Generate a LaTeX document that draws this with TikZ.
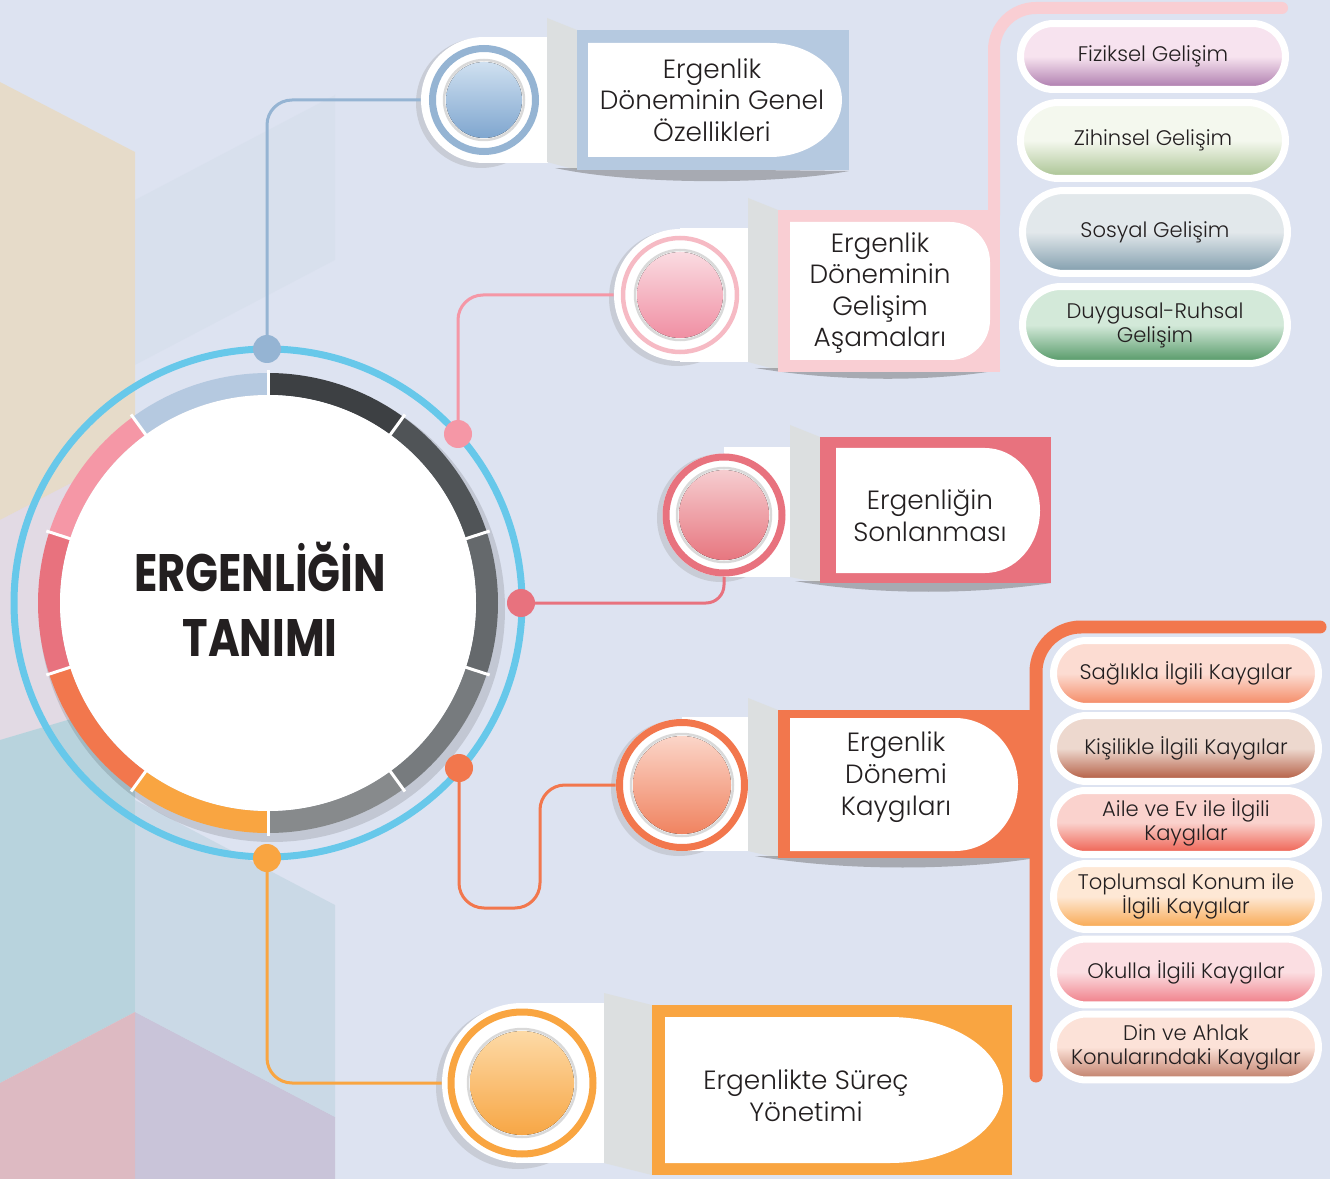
\documentclass[tikz,border=0pt]{standalone}
\usepackage{fontspec}
\usepackage{graphicx}
\setmainfont{Poppins}[UprightFont=* Light, BoldFont=* Bold]
\usetikzlibrary{shapes.misc,positioning}

\definecolor{bgc}{HTML}{DDE3F1}
\definecolor{txt}{HTML}{231F20}
\definecolor{ringc}{HTML}{67C8EA}
\definecolor{foldc}{HTML}{DCDFE0}
\definecolor{sg1}{HTML}{3D4043}
\definecolor{sg2}{HTML}{505457}
\definecolor{sg3}{HTML}{65696C}
\definecolor{sg4}{HTML}{777B7E}
\definecolor{sg5}{HTML}{878A8C}
\definecolor{blu}{HTML}{95B4D3}
\definecolor{blubox}{HTML}{B5C9E0}
\definecolor{blul}{HTML}{CFE0F0}
\definecolor{blud}{HTML}{7FA6CF}
\definecolor{pnk}{HTML}{F597A6}
\definecolor{pnkbox}{HTML}{F9CED3}
\definecolor{pnkring}{HTML}{F6BAC4}
\definecolor{pnkl}{HTML}{FADBE1}
\definecolor{pnkd}{HTML}{F08FA3}
\definecolor{red}{HTML}{E8727E}
\definecolor{redl}{HTML}{F6CDD0}
\definecolor{redd}{HTML}{E7767F}
\definecolor{org}{HTML}{F2774D}
\definecolor{orgl}{HTML}{FBD5C8}
\definecolor{orgd}{HTML}{F08360}
\definecolor{yel}{HTML}{F9A541}
\definecolor{yell}{HTML}{FDDAA6}
\definecolor{yeld}{HTML}{F7A645}
% background patches
\definecolor{bgbeige}{HTML}{E9DAC0}
\definecolor{bglav}{HTML}{E6D4DC}
\definecolor{bgteal}{HTML}{AFD0D8}
\definecolor{bgrose}{HTML}{DDBAC2}
\definecolor{bgpurp}{HTML}{C4BDD3}
\definecolor{bgmist}{HTML}{C3D6E2}
\definecolor{bgsky}{HTML}{D5DEEB}
% sub item shades
\definecolor{p1t}{HTML}{F7E3EF}\definecolor{p1b}{HTML}{A976AA}
\definecolor{p2t}{HTML}{F4F8EE}\definecolor{p2b}{HTML}{A7C18F}
\definecolor{p3t}{HTML}{E2E8EB}\definecolor{p3b}{HTML}{7E9BAB}
\definecolor{p4t}{HTML}{D3E9D9}\definecolor{p4b}{HTML}{4F9562}
\definecolor{q1t}{HTML}{FCDCD2}\definecolor{q1b}{HTML}{F4855E}
\definecolor{q2t}{HTML}{EDD8CE}\definecolor{q2b}{HTML}{B0553A}
\definecolor{q3t}{HTML}{FAD2CD}\definecolor{q3b}{HTML}{EE5B4B}
\definecolor{q4t}{HTML}{FEE8D5}\definecolor{q4b}{HTML}{F8A549}
\definecolor{q5t}{HTML}{FBDEE2}\definecolor{q5b}{HTML}{EF7A84}
\definecolor{q6t}{HTML}{FCE2D8}\definecolor{q6b}{HTML}{BE7B66}

\begin{document}
\begin{tikzpicture}[x=0.02cm, y=-0.02cm,
  conn/.style={line width=0.06cm, rounded corners=0.5cm},
  btn/.style={circle, fill=white, inner sep=0pt},
  fold/.style={fill=foldc},
  shd/.style={fill=black!60, opacity=.45},
  halo/.style={fill=black!40, opacity=.3},
  lbl/.style={align=center, text=txt, font=\fontsize{15}{18}\selectfont},
  pill/.style={rounded rectangle, draw=white, line width=0.14cm,
    minimum width=5.3cm, minimum height=1.32cm, inner sep=0pt,
    align=center, text=txt, font=\fontsize{12}{13.6}\selectfont},
  pillshade/.style 2 args={top color=#1, bottom color=#2, middle color=#1}]

% background
\fill[bgc] (0,0) rectangle (1330,1179);
\useasboundingbox (0,0) rectangle (1330,1179);
\fill[bgbeige, opacity=.8] (0,82) -- (135,152) -- (135,450) -- (0,520) -- cycle;
\fill[bglav, opacity=.6] (0,520) -- (135,450) -- (135,700) -- (0,740) -- cycle;
\fill[bgteal, opacity=.8] (0,740) -- (135,700) -- (135,1012) -- (0,1083) -- cycle;
\fill[bgrose] (0,1083) -- (135,1012) -- (135,1179) -- (0,1179) -- cycle;
\fill[bgpurp, opacity=.8] (135,1012) -- (335,1117) -- (335,1179) -- (135,1179) -- cycle;
\fill[bgmist, opacity=.7] (135,800) -- (335,905) -- (335,1117) -- (135,1012) -- cycle;
\fill[bgsky, opacity=.5] (135,200) -- (335,95) -- (335,260) -- (135,365) -- cycle;

% central circle
\fill[black, opacity=.12] (272,609) circle[radius=233];
\foreach \a/\c in {-90/sg1,-54/sg2,-18/sg3,18/sg4,54/sg5,90/yel,126/org,162/red,198/pnk,234/blubox}
  \draw[\c, line width=0.44cm] (268,603) ++(\a:219) arc[start angle=\a, delta angle=36, radius=219];
\fill[white] (268,603) circle[radius=208];
\foreach \a in {-90,-54,...,234}
  \draw[white, line width=0.06cm] (268,603) ++(\a:205) -- ++(\a:28);
\draw[ringc, line width=0.14cm] (268,603) circle[radius=254];
\node[font=\bfseries\fontsize{30}{37}\selectfont, align=center, text=txt] (title) at (260,599)
  {\scalebox{0.82}[1]{ERGENLİĞİN}\\\scalebox{0.82}[1]{TANIMI}};

% branch 1
\fill[halo] (481,103) circle[radius=65];
\fill[white] (484,37) rectangle (548,163);
\node[btn, minimum size=2.52cm] (b1) at (484,100) {};
\draw[blu, line width=0.14cm] (b1.center) circle[radius=51.5];
\draw[black!15, line width=0.05cm] (b1.center) circle[radius=40];
\fill[top color=blul, bottom color=blud] (b1.center) circle[radius=38];
\fill[fold] (547,18) -- (577,30) -- (577,170) -- (547,162) -- cycle;
\fill[shd] (555,168) .. controls (640,186) and (780,184) .. (849,171) -- cycle;
\fill[blubox] (577,30) rectangle (849,170);
\fill[white] (588,43) -- (770,43) arc[start angle=-90, end angle=90, x radius=72, y radius=57] -- (588,157) -- cycle;
\node[lbl] (t1) at (712,100) {Ergenlik\\Döneminin Genel\\Özellikleri};

% branch 2
\fill[halo] (677,298) circle[radius=68];
\fill[white] (680,228) rectangle (748,362);
\node[btn, minimum size=2.64cm] (b2) at (680,295) {};
\draw[pnkring, line width=0.09cm] (b2.center) circle[radius=57];
\draw[black!15, line width=0.05cm] (b2.center) circle[radius=45];
\fill[top color=pnkl, bottom color=pnkd] (b2.center) circle[radius=43];
\fill[fold] (748,198) -- (778,210) -- (778,370) -- (748,362) -- cycle;
\fill[shd] (755,368) .. controls (840,382) and (930,382) .. (1000,370) -- cycle;
\fill[pnkbox] (778,210) rectangle (1000,372);
\draw[pnkbox, line width=0.24cm, line cap=round] (994,215) -- (994,50) arc[start angle=180, end angle=270, radius=42] -- (1282,8);
\fill[white] (790,222) -- (950,222) arc[start angle=-90, end angle=0, radius=40] -- (990,320) arc[start angle=0, end angle=90, radius=40] -- (790,360) -- cycle;
\node[lbl] (t2) at (880,293) {Ergenlik\\Döneminin\\Gelişim\\Aşamaları};

% branch 3
\fill[halo] (721,518) circle[radius=64];
\fill[white] (724,447) rectangle (790,577);
\node[btn, minimum size=2.46cm] (b3) at (724,515) {};
\draw[red, line width=0.14cm] (b3.center) circle[radius=58];
\draw[black!15, line width=0.05cm] (b3.center) circle[radius=47];
\fill[top color=redl, bottom color=redd] (b3.center) circle[radius=45];
\fill[fold] (790,425) -- (820,437) -- (820,583) -- (790,577) -- cycle;
\fill[shd] (795,581) .. controls (880,596) and (980,594) .. (1051,583) -- cycle;
\fill[red] (820,437) rectangle (1051,583);
\fill[white] (836,448) -- (985,448) arc[start angle=-90, end angle=90, x radius=55, y radius=62.5] -- (836,573) -- cycle;
\node[lbl] (t3) at (930,516) {Ergenliğin\\Sonlanması};

% branch 4
\fill[halo] (679,788) circle[radius=68];
\fill[white] (682,717) rectangle (748,851);
\node[btn, minimum size=2.64cm] (b4) at (682,785) {};
\draw[org, line width=0.14cm] (b4.center) circle[radius=62.5];
\draw[black!15, line width=0.05cm] (b4.center) circle[radius=51];
\fill[top color=orgl, bottom color=orgd] (b4.center) circle[radius=49];
\fill[fold] (748,698) -- (778,710) -- (778,858) -- (748,851) -- cycle;
\fill[shd] (755,856) .. controls (850,872) and (960,870) .. (1036,858) -- cycle;
\fill[org] (778,710) rectangle (1036,858);
\draw[org, line width=0.26cm, line cap=round] (1036,1076) -- (1036,672) arc[start angle=180, end angle=270, radius=45] -- (1320,627);
\fill[white] (790,718) -- (955,718) arc[start angle=-90, end angle=90, x radius=63, y radius=66.5] -- (790,851) -- cycle;
\node[lbl] (t4) at (896,777) {Ergenlik\\Dönemi\\Kaygıları};

% branch 5
\fill[halo] (518,1087) circle[radius=82];
\fill[white] (522,1003) rectangle (604,1163);
\node[btn, minimum size=3.2cm] (b5) at (522,1083) {};
\draw[yel, line width=0.14cm] (b5.center) circle[radius=71];
\draw[black!15, line width=0.05cm] (b5.center) circle[radius=54];
\fill[top color=yell, bottom color=yeld] (b5.center) circle[radius=52];
\fill[fold] (604,993) -- (652,1005) -- (652,1175) -- (604,1163) -- cycle;
\fill[yel] (652,1005) rectangle (1012,1175);
\fill[white] (665,1017) -- (890,1017) arc[start angle=-90, end angle=90, x radius=113, y radius=73] -- (665,1163) -- cycle;
\node[lbl] (t5) at (806,1096) {Ergenlikte Süreç\\Yönetimi};

% connectors
\coordinate (d1) at (267,349);
\coordinate (d2) at (458,434);
\coordinate (d3) at (521,603);
\coordinate (d4) at (459,768);
\coordinate (d5) at (267,858);
\draw[conn, blu] (d1) |- (b1.west);
\draw[conn, pnk] (d2) |- (b2.west);
\draw[conn, red, rounded corners=0.36cm] (d3) -| (b3.south);
\draw[conn, org] (d4) |- (540,908) |- (b4.west);
\draw[conn, yel] (d5) |- (b5.west);
\fill[blu] (d1) circle[radius=14];
\fill[pnk] (d2) circle[radius=14];
\fill[red] (d3) circle[radius=14];
\fill[org] (d4) circle[radius=14];
\fill[yel] (d5) circle[radius=14];

% sub items
\node[pill, pillshade={p1t}{p1b}] (p1) at (1153,56.5) {Fiziksel Gelişim};
\node[pill, pillshade={p2t}{p2b}, minimum height=1.52cm] (p2) at (1153,140.5) {Zihinsel Gelişim};
\node[pill, pillshade={p3t}{p3b}, minimum height=1.66cm] (p3) at (1155,232) {Sosyal Gelişim};
\node[pill, pillshade={p4t}{p4b}, minimum height=1.54cm] (p4) at (1155,325) {Duygusal-Ruhsal\\Gelişim};

\node[pill, pillshade={q1t}{q1b}] (q1) at (1186,673.5) {Sağlıkla İlgili Kaygılar};
\node[pill, pillshade={q2t}{q2b}] (q2) at (1186,748.5) {Kişilikle İlgili Kaygılar};
\node[pill, pillshade={q3t}{q3b}, minimum height=1.28cm] (q3) at (1186,822.5) {Aile ve Ev ile İlgili\\Kaygılar};
\node[pill, pillshade={q4t}{q4b}] (q4) at (1186,896.5) {Toplumsal Konum ile\\İlgili Kaygılar};
\node[pill, pillshade={q5t}{q5b}] (q5) at (1186,972) {Okulla İlgili Kaygılar};
\node[pill, pillshade={q6t}{q6b}] (q6) at (1186,1047) {Din ve Ahlak\\Konularındaki Kaygılar};
\end{tikzpicture}
\end{document}
